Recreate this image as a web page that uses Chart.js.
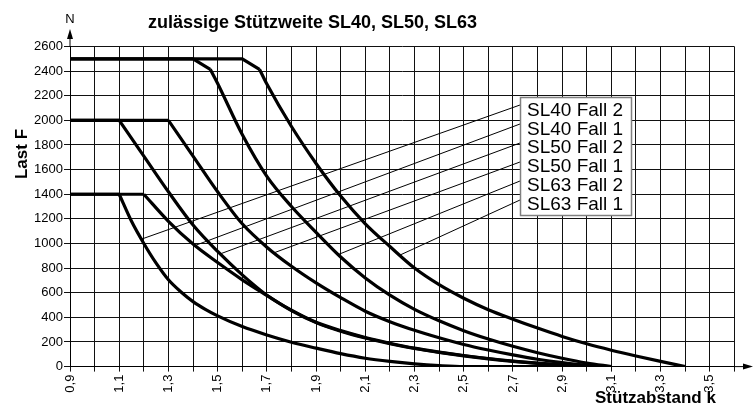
<!DOCTYPE html>
<html lang="de">
<head>
<meta charset="utf-8">
<title>zulässige Stützweite SL40, SL50, SL63</title>
<script src="https://cdn.jsdelivr.net/npm/chart.js"></script>
<style>
  html, body { margin: 0; padding: 0; background: #fff; }
</style>
</head>
<body>
<canvas id="chart" width="753" height="420"></canvas>
<script>
// Werte: Stützabstand k, Last F in N
const seriesNames = ["SL40 Fall 2", "SL40 Fall 1", "SL50 Fall 2", "SL50 Fall 1", "SL63 Fall 2", "SL63 Fall 1"];

const sl40f2K = [0.9, 1.1, 1.15, 1.2, 1.25, 1.3, 1.35, 1.4, 1.45, 1.5, 1.6, 1.7, 1.8, 1.9, 2.0, 2.1, 2.2, 2.3, 2.4, 2.5, 2.7, 2.9, 3.1];
const sl40f2F = [1400, 1400, 1180, 1000, 840, 705, 608, 528, 465, 412, 325, 257, 198, 150, 105, 68, 42, 22, 8, 0, 0, 0, 0];

const sl40f1K = [0.9, 1.2, 1.3, 1.4, 1.5, 1.6, 1.7, 1.8, 1.9, 2.0, 2.1, 2.2, 2.3, 2.4, 2.5, 2.6, 2.7, 2.8, 2.9, 3.0, 3.1];
const sl40f1F = [1400, 1400, 1180, 995, 845, 705, 578, 455, 357, 287, 232, 186, 147, 115, 87, 63, 43, 26, 12, 3, 0];

const sl50f2K = [0.9, 1.1, 1.2, 1.3, 1.4, 1.5, 1.6, 1.7, 1.8, 1.9, 2.0, 2.1, 2.2, 2.3, 2.4, 2.5, 2.6, 2.7, 2.8, 2.9, 3.0, 3.1];
const sl50f2F = [2000, 2000, 1710, 1420, 1150, 935, 745, 580, 458, 360, 292, 236, 190, 150, 118, 90, 66, 45, 28, 14, 4, 0];

const sl50f1K = [0.9, 1.3, 1.4, 1.5, 1.6, 1.7, 1.8, 1.9, 2.0, 2.1, 2.2, 2.3, 2.4, 2.5, 2.6, 2.7, 2.8, 2.9, 3.0, 3.1];
const sl50f1F = [2000, 2000, 1710, 1420, 1160, 970, 815, 680, 560, 450, 365, 295, 235, 180, 135, 95, 60, 32, 10, 0];

const sl63f2K = [0.9, 1.4, 1.47, 1.5, 1.6, 1.7, 1.8, 1.9, 2.0, 2.1, 2.2, 2.3, 2.4, 2.5, 2.6, 2.7, 2.8, 2.9, 3.0, 3.1];
const sl63f2F = [2500, 2500, 2415, 2300, 1885, 1545, 1300, 1090, 890, 720, 580, 465, 372, 292, 224, 165, 113, 68, 29, 0];

const sl63f1K = [0.9, 1.6, 1.67, 1.7, 1.8, 1.9, 2.0, 2.1, 2.2, 2.3, 2.4, 2.5, 2.6, 2.7, 2.8, 2.9, 3.0, 3.1, 3.2, 3.3, 3.4];
const sl63f1F = [2500, 2500, 2415, 2295, 1950, 1650, 1385, 1160, 975, 800, 665, 555, 462, 385, 313, 245, 185, 133, 86, 42, 0];

// letzter Punkt des geraden Anfangsstücks (danach gekrümmt)
const kneeIndex = [1, 1, 1, 1, 2, 2];

// Endpunkte der Hinweislinien auf den Kurven
const leaderK = [1.19, 1.41, 1.51, 1.73, 1.99, 2.24];
const leaderF = [1035, 985, 915, 925, 910, 905];

const seriesK = [sl40f2K, sl40f1K, sl50f2K, sl50f1K, sl63f2K, sl63f1K];
const seriesF = [sl40f2F, sl40f1F, sl50f2F, sl50f1F, sl63f2F, sl63f1F];

const FONT = '"Liberation Sans", Arial, Helvetica, sans-serif';

function toPoints(ks, fs, from, to) {
  const pts = [];
  for (let i = from; i <= to; i++) pts.push({ x: ks[i], y: fs[i] });
  return pts;
}

const datasets = [];
seriesNames.forEach((name, s) => {
  const ks = seriesK[s], fs = seriesF[s], knee = kneeIndex[s];
  // gerades Stück (Plateau)
  datasets.push({
    label: name,
    data: toPoints(ks, fs, 0, knee),
    borderColor: "#000",
    borderWidth: 3.2,
    pointRadius: 0,
    tension: 0,
  });
  // gekrümmter Abfall
  datasets.push({
    label: name,
    data: toPoints(ks, fs, knee, ks.length - 1),
    borderColor: "#000",
    borderWidth: 3.2,
    pointRadius: 0,
    cubicInterpolationMode: "monotone",
  });
});

const extras = {
  id: "extras",
  afterDraw(chart) {
    const ctx = chart.ctx;
    const area = chart.chartArea;
    const xs = chart.scales.x, ys = chart.scales.y;
    ctx.save();
    ctx.fillStyle = "#000";
    ctx.strokeStyle = "#000";

    // Titel
    ctx.font = "bold 18px " + FONT;
    ctx.textAlign = "left";
    ctx.textBaseline = "alphabetic";
    ctx.fillText("zulässige Stützweite SL40, SL50, SL63", 148, 28);

    // Pfeil y-Achse
    ctx.lineWidth = 1;
    ctx.beginPath();
    ctx.moveTo(area.left, area.top);
    ctx.lineTo(area.left, 36);
    ctx.stroke();
    ctx.beginPath();
    ctx.moveTo(area.left, 29);
    ctx.lineTo(area.left - 3, 39);
    ctx.lineTo(area.left + 3, 39);
    ctx.closePath();
    ctx.fill();

    // Pfeil x-Achse
    const y0 = ys.getPixelForValue(0);
    ctx.beginPath();
    ctx.moveTo(area.right, y0);
    ctx.lineTo(745, y0);
    ctx.stroke();
    ctx.beginPath();
    ctx.moveTo(753, y0);
    ctx.lineTo(743, y0 - 3);
    ctx.lineTo(743, y0 + 3);
    ctx.closePath();
    ctx.fill();

    // Einheit
    ctx.font = "13px " + FONT;
    ctx.textAlign = "center";
    ctx.fillText("N", area.left, 23);

    // Achsentitel
    ctx.font = "bold 17px " + FONT;
    ctx.textAlign = "left";
    ctx.fillText("Stützabstand k", 595, 403);
    ctx.save();
    ctx.translate(26.5, 154);
    ctx.rotate(-Math.PI / 2);
    ctx.textAlign = "center";
    ctx.fillText("Last F", 0, 0);
    ctx.restore();

    // Hinweislinien
    const boxX = 520, boxY = 97, boxW = 111, boxH = 118;
    ctx.lineWidth = 1;
    leaderK.forEach((k, i) => {
      ctx.beginPath();
      ctx.moveTo(boxX, 105 + i * 19);
      ctx.lineTo(xs.getPixelForValue(k), ys.getPixelForValue(leaderF[i]));
      ctx.stroke();
    });

    // Beschriftungskasten
    ctx.fillStyle = "#fff";
    ctx.fillRect(boxX, boxY, boxW, boxH);
    ctx.strokeStyle = "#808080";
    ctx.lineWidth = 1.5;
    ctx.strokeRect(boxX + 0.5, boxY + 0.5, boxW, boxH);
    ctx.fillStyle = "#000";
    ctx.font = "19px " + FONT;
    ctx.textAlign = "left";
    seriesNames.forEach((name, i) => {
      ctx.fillText(name, 527, 116 + i * 18.7);
    });
    ctx.restore();
  },
};

new Chart(document.getElementById("chart"), {
  type: "line",
  data: { datasets },
  options: {
    responsive: false,
    animation: false,
    layout: { padding: { top: 46.5, right: 16, left: 0, bottom: 0 } },
    plugins: {
      legend: { display: false },
      tooltip: { enabled: false },
    },
    scales: {
      x: {
        type: "linear",
        min: 0.9,
        max: 3.6,
        afterFit: (s) => { s.height = 53.4; },
        ticks: {
          stepSize: 0.1,
          autoSkip: false,
          minRotation: 90,
          maxRotation: 90,
          padding: 3,
          color: "#000",
          font: { family: FONT, size: 13 },
          callback: (v, i) => (i % 2 === 0 ? Number(v).toFixed(1).replace(".", ",") : ""),
        },
        grid: { color: "#111", lineWidth: 1, tickLength: 5 },
        border: { color: "#000", width: 1 },
      },
      y: {
        min: 0,
        max: 2600,
        afterFit: (s) => { s.width = 70; },
        ticks: {
          stepSize: 200,
          padding: 1,
          color: "#000",
          font: { family: FONT, size: 13 },
          callback: (v) => String(v),
        },
        grid: { color: "#111", lineWidth: 1, tickLength: 6 },
        border: { color: "#000", width: 1 },
      },
    },
  },
  plugins: [extras],
});
</script>
</body>
</html>
